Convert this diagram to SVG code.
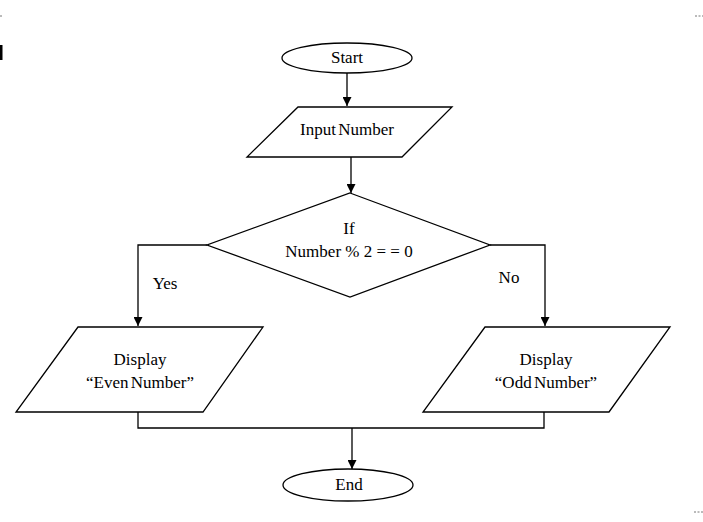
<svg xmlns="http://www.w3.org/2000/svg" width="703" height="522" viewBox="0 0 703 522">
<style>
.s{fill:#fff;stroke:#000;stroke-width:1.3}
.c{fill:none;stroke:#000;stroke-width:1.3}
.t{font-family:"Liberation Serif","Times New Roman",serif;font-size:17px;fill:#000;text-anchor:middle}
.m{stroke:#777;stroke-width:1;stroke-dasharray:2 1.5}
</style>
<defs>
<marker id="a" viewBox="0 0 10 10" refX="10" refY="5" markerWidth="9" markerHeight="9" markerUnits="userSpaceOnUse" orient="auto">
<path d="M0,0 L10,5 L0,10 z" fill="#000"/>
</marker>
</defs>
<rect width="703" height="522" fill="#fff"/>
<g id="marks">
<line class="m" x1="0" y1="16" x2="2" y2="16"/>
<line class="m" x1="695" y1="16" x2="703" y2="16"/>
<line class="m" x1="694" y1="512" x2="703" y2="512"/>
<rect x="0" y="45" width="2.5" height="15" fill="#000"/>
</g>
<g id="connectors">
<line class="c" x1="347" y1="73" x2="347" y2="106" marker-end="url(#a)"/>
<line class="c" x1="351" y1="157" x2="351" y2="193" marker-end="url(#a)"/>
<polyline class="c" points="207,245 138,245 138,326" marker-end="url(#a)"/>
<polyline class="c" points="490,245 545,245 545,326" marker-end="url(#a)"/>
<polyline class="c" points="138,412 138,428 544,428 544,412"/>
<line class="c" x1="352" y1="428" x2="352" y2="469" marker-end="url(#a)"/>
<text class="t" x="165" y="289">Yes</text>
<text class="t" x="509" y="283">No</text>
</g>
<g id="start">
<ellipse class="s" cx="347" cy="58" rx="65" ry="15"/>
<text class="t" x="347" y="63">Start</text>
</g>
<g id="input">
<polygon class="s" points="298,107 452,107 402,157 247,157"/>
<text class="t" x="347" y="135" word-spacing="-2">Input Number</text>
</g>
<g id="decision">
<polygon class="s" points="350,193 490,245 350,297 207,245"/>
<text class="t" x="349" y="234">If</text>
<text class="t" x="349" y="257">Number % 2 = = 0</text>
</g>
<g id="even">
<polygon class="s" points="78,327 263,327 203,412 16,412"/>
<text class="t" x="140" y="365">Display</text>
<text class="t" x="140" y="388" word-spacing="-2">“Even Number”</text>
</g>
<g id="odd">
<polygon class="s" points="485,327 670,327 609,412 423,412"/>
<text class="t" x="546" y="365">Display</text>
<text class="t" x="546" y="388" word-spacing="-2">“Odd Number”</text>
</g>
<g id="end">
<ellipse class="s" cx="348" cy="485" rx="65" ry="16"/>
<text class="t" x="349" y="490">End</text>
</g>
</svg>
